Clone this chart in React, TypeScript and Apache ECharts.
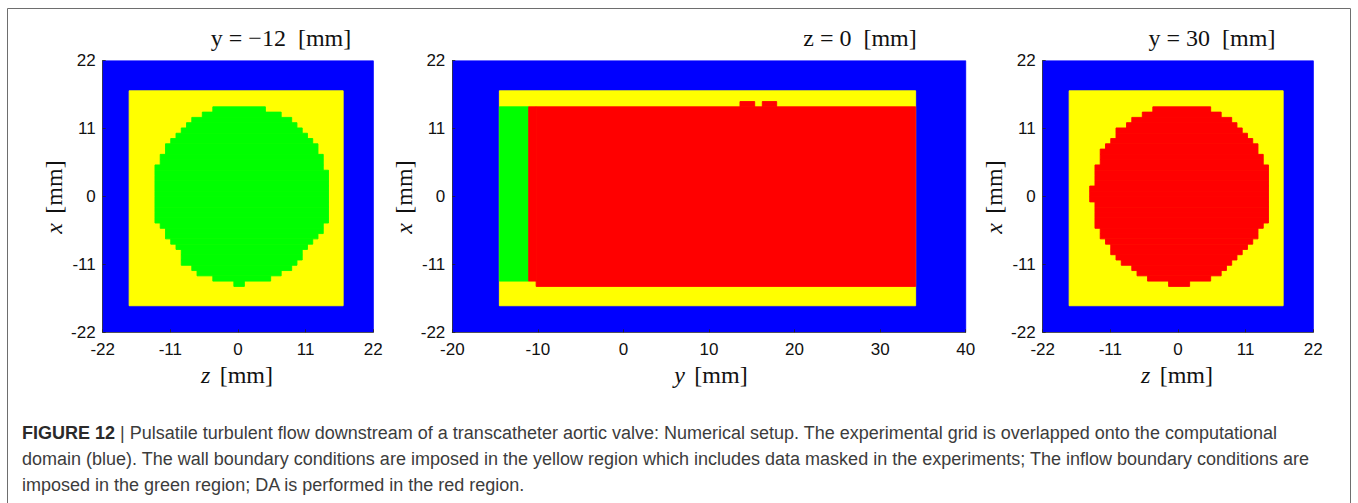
import React, { useEffect, useRef } from "react";
import * as echarts from "echarts";

// ---------- axis ranges / ticks ----------
const crossRange = [-22, 22];
const crossStep = 11;
const axialRange = [-20, 40];
const axialStep = 10;

// ---------- texts ----------
const panelTitles = ["y = \u221212  [mm]", "z = 0  [mm]", "y = 30  [mm]"];
const xAxisSymbols = ["z", "y", "z"];
const yAxisSymbol = "x";
const captionLines = [
  "Pulsatile turbulent flow downstream of a transcatheter aortic valve: Numerical setup. The experimental grid is overlapped onto the computational",
  "domain (blue). The wall boundary conditions are imposed in the yellow region which includes data masked in the experiments; The inflow boundary conditions are",
  "imposed in the green region; DA is performed in the red region.",
];
const captionLabel = "FIGURE 12";

// ---------- region data (mm) : [hMin, hMax, vMin, vMax] ----------
const crossDomain = [[-22, 22, -22, 22]];
const crossYellow = [[-17.7, 17.1, -17.7, 17.1]];
const axialDomain = [[-20, 40, -22, 22]];
const axialYellow = [[-14.5, 34.15, -17.7, 17.1]];
const axialGreen = [[-14.5, -11.07, -13.715, 14.5]];
const axialRed = [
  [-10.2, 34.15, -14.57, 14.5],
  [-11.07, -10.2, -13.715, 14.5],
  [13.62, 15.34, 14.5, 15.355],
  [16.23, 17.91, 14.5, 15.355],
];

// grid row edges (x, mm) of the experimental grid, top to bottom
const rowEdges = [
  14.5, 13.645, 12.79, 11.935, 11.08, 10.225, 9.37, 8.515, 7.66, 6.805, 5.95,
  5.095, 4.24, 3.385, 2.53, 1.675, 0.82, -0.035, -0.89, -1.745, -2.6, -3.455,
  -4.31, -5.165, -6.02, -6.875, -7.73, -8.585, -9.44, -10.295, -11.15, -12.005,
  -12.86, -13.715, -14.57,
];

// green disc at y = -12 mm : z extent per row
const inletLeft = [
  -4.095, -5.805, -7.515, -8.37, -9.225, -10.08, -10.935, -11.79, -11.79,
  -12.645, -12.645, -13.5, -13.5, -13.5, -13.5, -13.5, -13.5, -13.5, -13.5,
  -13.5, -13.5, -13.5, -12.645, -11.79, -11.79, -10.935, -10.08, -9.225,
  -9.225, -9.225, -7.515, -6.66, -4.095, -0.675,
];
const inletRight = [
  4.455, 7.02, 8.73, 9.585, 10.44, 11.295, 12.15, 13.005, 13.005, 13.86, 13.86,
  13.86, 14.715, 14.715, 14.715, 14.715, 14.715, 14.715, 14.715, 14.715,
  14.715, 14.715, 13.86, 13.86, 13.005, 12.15, 11.295, 10.44, 10.44, 9.585,
  8.73, 7.02, 5.31, 1.035,
];

// red disc at y = 30 mm : z extent per row
const daLeft = [
  -4.095, -5.805, -7.515, -8.37, -10.08, -10.08, -10.935, -11.79, -12.645,
  -12.645, -12.645, -13.5, -13.5, -13.5, -13.5, -14.355, -14.355, -14.355,
  -13.5, -13.5, -13.5, -13.5, -13.5, -12.645, -12.645, -11.79, -10.935,
  -10.935, -10.08, -9.225, -7.515, -6.66, -4.95, -1.53,
];
const daRight = [
  5.31, 7.02, 8.73, 9.585, 10.44, 11.295, 12.15, 13.005, 13.005, 13.86, 13.86,
  14.715, 14.715, 14.715, 14.715, 14.715, 14.715, 14.715, 14.715, 14.715,
  14.715, 14.715, 13.86, 13.005, 13.005, 12.15, 11.295, 10.44, 9.585, 8.73,
  7.875, 7.02, 5.31, 1.89,
];

const BLUE = "#0000ff";
const YELLOW = "#ffff00";
const GREEN = "#00ff00";
const RED = "#ff0000";

function discRects(left: number[], right: number[]) {
  return left.map((l, k) => [l, right[k], rowEdges[k + 1], rowEdges[k]]);
}

function rectSeries(idx: number, rects: number[][], color: string, z: number) {
  return {
    type: "custom",
    xAxisIndex: idx,
    yAxisIndex: idx,
    z,
    clip: true,
    silent: true,
    dimensions: ["h0", "h1", "v0", "v1"],
    encode: { x: [0, 1], y: [2, 3] },
    data: rects,
    renderItem: (_p: any, api: any) => {
      const a = api.coord([api.value(0), api.value(3)]);
      const b = api.coord([api.value(1), api.value(2)]);
      return {
        type: "rect",
        shape: { x: a[0], y: a[1], width: b[0] - a[0], height: b[1] - a[1] },
        style: { fill: color, stroke: color, lineWidth: 0.9 },
      };
    },
  };
}

const grids = [
  { left: 102.7, top: 60.5, width: 270.6, height: 271.8 },
  { left: 452.3, top: 60.5, width: 513.4, height: 271.8 },
  { left: 1042.7, top: 60.5, width: 270.6, height: 271.8 },
];

const tickFont = {
  fontFamily: "Liberation Sans",
  fontSize: 17,
  color: "#111",
};

function makeAxis(idx: number, range: number[], step: number, isX: boolean) {
  return {
    type: "value",
    gridIndex: idx,
    min: range[0],
    max: range[1],
    interval: step,
    z: 5,
    axisLine: { show: true, onZero: false, lineStyle: { color: "#333", width: 0.8 } },
    axisTick: { show: true, inside: true, length: 3, lineStyle: { color: "#222", width: 0.8 } },
    splitLine: { show: false },
    axisLabel: { ...tickFont, margin: isX ? 9 : 7 },
  };
}

export default function App() {
  const ref = useRef<HTMLDivElement>(null);
  useEffect(() => {
    if (!ref.current) return;
    const chart = echarts.init(ref.current, undefined, { renderer: "svg" });

    const titleX = [281, 860, 1212];
    const xNameX = [237, 711, 1177];
    const yNameX = [54, 404, 994];

    const graphic: any[] = [
      {
        type: "rect",
        shape: { x: 7.5, y: 8.5, width: 1343, height: 520 },
        style: { fill: "none", stroke: "#6e6e6e", lineWidth: 1 },
        z: 100,
      },
    ];
    const serifRich = {
      i: { fontFamily: "Liberation Serif", fontStyle: "italic", fontSize: 24, fill: "#111", color: "#111" },
      n: { fontFamily: "Liberation Serif", fontSize: 24, fill: "#111", color: "#111" },
    };
    panelTitles.forEach((t, i) => {
      graphic.push({
        type: "text",
        x: titleX[i],
        y: 38,
        z: 100,
        style: {
          text: t,
          font: '24px "Liberation Serif"',
          fill: "#111",
          align: "center",
          verticalAlign: "middle",
          textAlign: "center",
          textVerticalAlign: "middle",
        },
      });
      graphic.push({
        type: "text",
        x: xNameX[i],
        y: 375,
        z: 100,
        style: {
          text: `{i|${xAxisSymbols[i]}} {n| [mm]}`,
          align: "center",
          verticalAlign: "middle",
          textAlign: "center",
          textVerticalAlign: "middle",
          rich: serifRich,
        },
      });
      graphic.push({
        type: "text",
        x: yNameX[i],
        y: 197,
        rotation: Math.PI / 2,
        z: 100,
        style: {
          text: `{i|${yAxisSymbol}} {n| [mm]}`,
          align: "center",
          verticalAlign: "middle",
          textAlign: "center",
          textVerticalAlign: "middle",
          rich: serifRich,
        },
      });
    });
    const capY = [433, 459, 485];
    captionLines.forEach((line, i) => {
      graphic.push({
        type: "text",
        x: 22,
        y: capY[i],
        z: 100,
        style: {
          text: i === 0 ? `{b|${captionLabel}}{r| | ${line}}` : `{r|${line}}`,
          align: "left",
          verticalAlign: "middle",
          textAlign: "left",
          textVerticalAlign: "middle",
          rich: {
            b: { fontFamily: "Liberation Sans", fontWeight: "bold", fontSize: 18, fill: "#2a2a2a", color: "#2a2a2a" },
            r: { fontFamily: "Liberation Sans", fontSize: 18, fill: "#3c3c3c", color: "#3c3c3c" },
          },
        },
      });
    });

    chart.setOption({
      animation: false,
      backgroundColor: "#ffffff",
      grid: grids.map((g) => ({ ...g, containLabel: false })),
      xAxis: [
        makeAxis(0, crossRange, crossStep, true),
        makeAxis(1, axialRange, axialStep, true),
        makeAxis(2, crossRange, crossStep, true),
      ],
      yAxis: [
        makeAxis(0, crossRange, crossStep, false),
        makeAxis(1, crossRange, crossStep, false),
        makeAxis(2, crossRange, crossStep, false),
      ],
      series: [
        rectSeries(0, crossDomain, BLUE, 1),
        rectSeries(0, crossYellow, YELLOW, 2),
        rectSeries(0, discRects(inletLeft, inletRight), GREEN, 3),
        rectSeries(1, axialDomain, BLUE, 1),
        rectSeries(1, axialYellow, YELLOW, 2),
        rectSeries(1, axialGreen, GREEN, 3),
        rectSeries(1, axialRed, RED, 3),
        rectSeries(2, crossDomain, BLUE, 1),
        rectSeries(2, crossYellow, YELLOW, 2),
        rectSeries(2, discRects(daLeft, daRight), RED, 3),
      ],
      graphic,
    });
    return () => chart.dispose();
  }, []);

  return (
    <div
      ref={ref}
      style={{ position: "absolute", left: 0, top: 0, width: 1358, height: 503, background: "#fff" }}
    />
  );
}
